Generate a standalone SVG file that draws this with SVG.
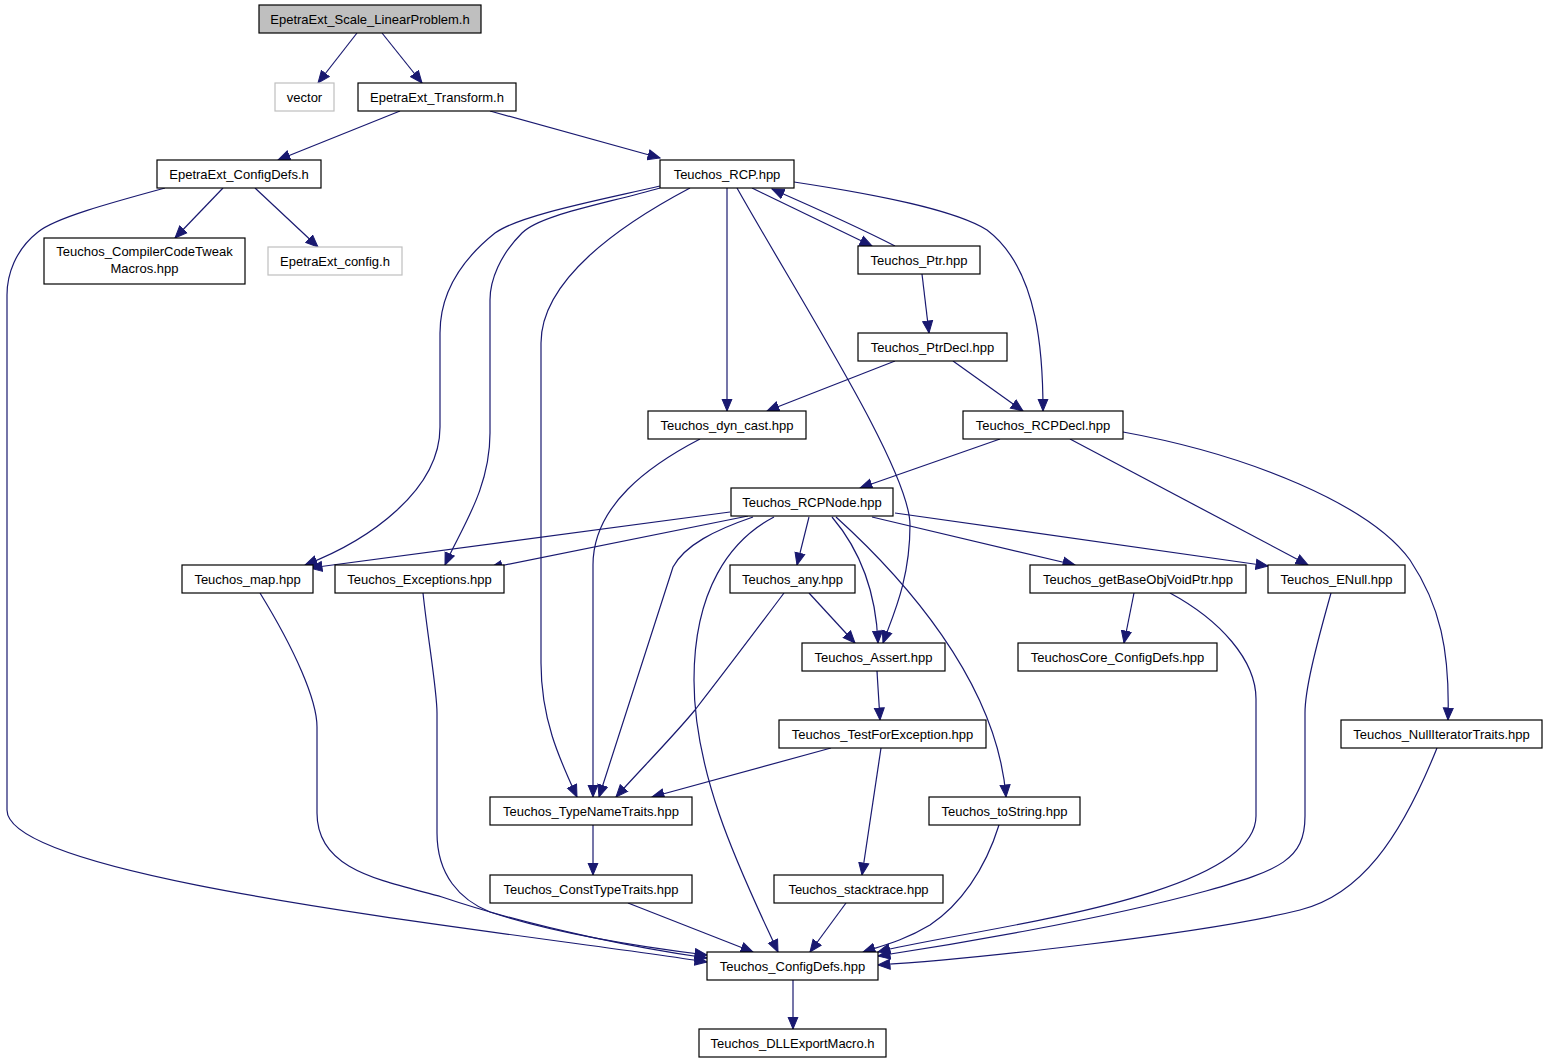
<svg xmlns="http://www.w3.org/2000/svg" width="1548" height="1064" viewBox="0 0 1548 1064">
<style>
.n rect{fill:#fff;stroke:#000;stroke-width:1.2}
.n.g rect{stroke:#bfbfbf}
.n.root rect{fill:#bfbfbf}
.n text{font-family:"Liberation Sans",Arial,sans-serif;font-size:13px;text-anchor:middle;fill:#000}
#edges path{fill:none;stroke:#191970;stroke-width:1.2;marker-end:url(#ah)}
</style>
<defs>
<marker id="ah" markerUnits="userSpaceOnUse" markerWidth="14" markerHeight="12" refX="12.5" refY="6" orient="auto">
<path d="M0.5,1 L12.5,6 L0.5,11 z" fill="#191970" stroke="#191970" stroke-width="1"/>
</marker>
</defs>
<rect width="1548" height="1064" fill="#fff"/>
<g id="edges">
<path d="M357,33 L318,83"/>
<path d="M382,33 L422,83"/>
<path d="M400,111 L278,160"/>
<path d="M490,111 L660,158"/>
<path d="M223,188 L175,238"/>
<path d="M255,188 L318,247"/>
<path d="M165,188 C110,203 55,218 38,232 C15,250 7,275 7,295 L7,810 C7,880 500,930 707,962"/>
<path d="M660,186 C600,200 520,215 495,233 C455,265 440,300 440,333 L440,427 C440,490 370,540 305,565"/>
<path d="M660,188 C600,205 540,215 522,233 C500,255 490,280 490,300 L490,433 C490,490 460,530 445,565"/>
<path d="M690,188 C620,225 541,280 541,343 L541,663 C541,720 560,760 577,797"/>
<path d="M727,188 L727,411"/>
<path d="M737,188 C800,300 910,470 910,525 C910,580 893,615 883,643"/>
<path d="M752,188 L872,246"/>
<path d="M895,246 C860,228 820,210 772,189"/>
<path d="M794,182 C880,195 955,210 987,230 C1040,270 1043,360 1043,411"/>
<path d="M922,274 L929,333"/>
<path d="M895,361 L767,411"/>
<path d="M953,361 L1023,411"/>
<path d="M1000,439 L860,488"/>
<path d="M1070,439 L1308,565"/>
<path d="M1123,432 C1250,455 1370,505 1410,560 C1440,605 1450,650 1448,720"/>
<path d="M700,439 C650,465 593,505 593,565 L593,797"/>
<path d="M730,512 L310,568"/>
<path d="M748,516 L490,568"/>
<path d="M753,517 C715,530 685,545 673,567 L599,797"/>
<path d="M774,517 C730,540 694,590 694,680 C694,780 745,880 778,952"/>
<path d="M809,517 L797,565"/>
<path d="M832,517 C860,550 876,590 878,643"/>
<path d="M836,517 C900,575 997,680 1006,797"/>
<path d="M872,517 L1075,565"/>
<path d="M895,513 L1268,566"/>
<path d="M809,593 L855,643"/>
<path d="M784,593 C760,625 730,665 695,710 C670,740 640,770 616,797"/>
<path d="M1134,593 L1124,643"/>
<path d="M1170,593 C1220,620 1256,660 1256,699 L1256,816 C1256,900 960,930 878,952"/>
<path d="M1331,593 C1315,650 1305,690 1305,713 L1305,816 C1305,860 1280,870 1206,891 C1100,920 950,945 878,956"/>
<path d="M1437,748 C1400,840 1360,895 1300,910 C1200,935 960,960 878,965"/>
<path d="M877,671 L880,720"/>
<path d="M831,748 L652,797"/>
<path d="M881,748 L862,875"/>
<path d="M593,825 L593,875"/>
<path d="M628,903 L753,952"/>
<path d="M846,903 L810,952"/>
<path d="M999,825 C985,870 960,905 930,925 C905,940 885,945 863,952"/>
<path d="M260,593 C295,650 317,700 317,727 L317,813 C317,870 380,880 442,897 C540,930 650,950 707,958"/>
<path d="M423,593 C428,640 437,690 437,713 L437,833 C437,875 460,900 490,912 C560,935 650,948 707,955"/>
<path d="M793,980 L793,1029"/>
</g>
<g id="n1" class="n root"><rect x="259" y="5" width="222" height="28"/><text x="370" y="23.5">EpetraExt_Scale_LinearProblem.h</text></g>
<g id="n2" class="n g"><rect x="275" y="83" width="59" height="28"/><text x="304.5" y="101.5">vector</text></g>
<g id="n3" class="n"><rect x="358" y="83" width="158" height="28"/><text x="437" y="101.5">EpetraExt_Transform.h</text></g>
<g id="n4" class="n"><rect x="157" y="160" width="164" height="28"/><text x="239" y="178.5">EpetraExt_ConfigDefs.h</text></g>
<g id="n5" class="n"><rect x="660" y="160" width="134" height="28"/><text x="727" y="178.5">Teuchos_RCP.hpp</text></g>
<g id="n6" class="n"><rect x="44" y="238" width="201" height="46"/><text x="144.5" y="256">Teuchos_CompilerCodeTweak</text><text x="144.5" y="273">Macros.hpp</text></g>
<g id="n7" class="n g"><rect x="268" y="247" width="134" height="28"/><text x="335" y="265.5">EpetraExt_config.h</text></g>
<g id="n8" class="n"><rect x="858" y="246" width="122" height="28"/><text x="919" y="264.5">Teuchos_Ptr.hpp</text></g>
<g id="n9" class="n"><rect x="858" y="333" width="149" height="28"/><text x="932.5" y="351.5">Teuchos_PtrDecl.hpp</text></g>
<g id="n10" class="n"><rect x="648" y="411" width="158" height="28"/><text x="727" y="429.5">Teuchos_dyn_cast.hpp</text></g>
<g id="n11" class="n"><rect x="963" y="411" width="160" height="28"/><text x="1043" y="429.5">Teuchos_RCPDecl.hpp</text></g>
<g id="n12" class="n"><rect x="731" y="488" width="162" height="28"/><text x="812" y="506.5">Teuchos_RCPNode.hpp</text></g>
<g id="n13" class="n"><rect x="182" y="565" width="131" height="28"/><text x="247.5" y="583.5">Teuchos_map.hpp</text></g>
<g id="n14" class="n"><rect x="335" y="565" width="169" height="28"/><text x="419.5" y="583.5">Teuchos_Exceptions.hpp</text></g>
<g id="n15" class="n"><rect x="730" y="565" width="125" height="28"/><text x="792.5" y="583.5">Teuchos_any.hpp</text></g>
<g id="n16" class="n"><rect x="1030" y="565" width="216" height="28"/><text x="1138" y="583.5">Teuchos_getBaseObjVoidPtr.hpp</text></g>
<g id="n17" class="n"><rect x="1268" y="565" width="137" height="28"/><text x="1336.5" y="583.5">Teuchos_ENull.hpp</text></g>
<g id="n18" class="n"><rect x="802" y="643" width="143" height="28"/><text x="873.5" y="661.5">Teuchos_Assert.hpp</text></g>
<g id="n19" class="n"><rect x="1018" y="643" width="199" height="28"/><text x="1117.5" y="661.5">TeuchosCore_ConfigDefs.hpp</text></g>
<g id="n20" class="n"><rect x="779" y="720" width="207" height="28"/><text x="882.5" y="738.5">Teuchos_TestForException.hpp</text></g>
<g id="n21" class="n"><rect x="1341" y="720" width="201" height="28"/><text x="1441.5" y="738.5">Teuchos_NullIteratorTraits.hpp</text></g>
<g id="n22" class="n"><rect x="490" y="797" width="202" height="28"/><text x="591" y="815.5">Teuchos_TypeNameTraits.hpp</text></g>
<g id="n23" class="n"><rect x="929" y="797" width="151" height="28"/><text x="1004.5" y="815.5">Teuchos_toString.hpp</text></g>
<g id="n24" class="n"><rect x="490" y="875" width="202" height="28"/><text x="591" y="893.5">Teuchos_ConstTypeTraits.hpp</text></g>
<g id="n25" class="n"><rect x="774" y="875" width="169" height="28"/><text x="858.5" y="893.5">Teuchos_stacktrace.hpp</text></g>
<g id="n26" class="n"><rect x="707" y="952" width="171" height="28"/><text x="792.5" y="970.5">Teuchos_ConfigDefs.hpp</text></g>
<g id="n27" class="n"><rect x="699" y="1029" width="187" height="28"/><text x="792.5" y="1047.5">Teuchos_DLLExportMacro.h</text></g>
</svg>
